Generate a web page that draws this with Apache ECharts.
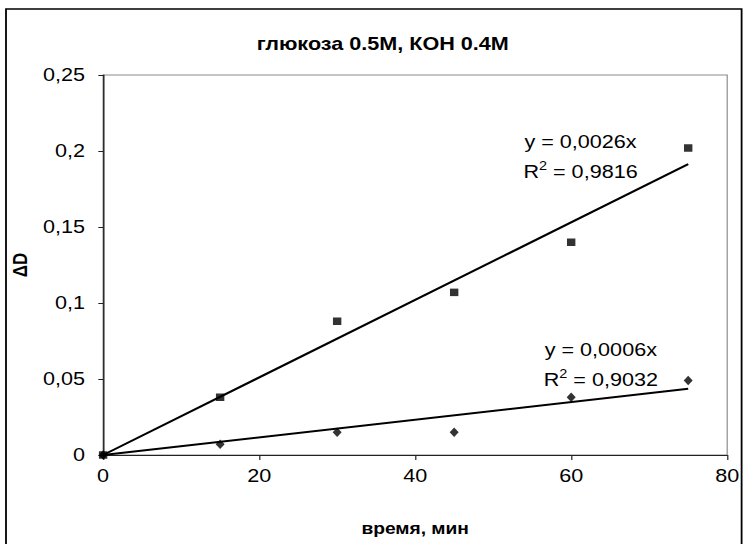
<!DOCTYPE html>
<html>
<head>
<meta charset="utf-8">
<script src="https://cdn.jsdelivr.net/npm/echarts@6/dist/echarts.min.js"></script>
<style>
  html, body { margin: 0; padding: 0; background: #fff; overflow: hidden; }
  /* the chart is laid out narrower and widened to the page width */
  #chart { width: 623px; height: 544px; transform: scaleX(1.2); transform-origin: 0 0; }
</style>
</head>
<body>
<div id="chart"></div>
<script>
// measurement times, min
const times = [0, 15, 30, 45, 60, 75];
// ΔD, upper series (squares)
const deltaSquares = [0, 0.038, 0.088, 0.107, 0.140, 0.202];
// ΔD, lower series (diamonds)
const deltaDiamonds = [0, 0.007, 0.015, 0.015, 0.038, 0.049];
// axis ticks
const xTicks = [0, 20, 40, 60, 80];
const yTicks = [0, 0.05, 0.1, 0.15, 0.2, 0.25];

const title = 'глюкоза 0.5M, КОН 0.4M';
const xName = 'время, мин';
const yName = 'ΔD';

// least-squares line through the origin, with the usual R²
function fitOrigin(xs, ys) {
  let sxy = 0, sxx = 0, mean = 0;
  xs.forEach((x, i) => { sxy += x * ys[i]; sxx += x * x; mean += ys[i]; });
  mean /= ys.length;
  const k = sxy / sxx;
  let sse = 0, sst = 0;
  xs.forEach((x, i) => {
    sse += Math.pow(ys[i] - k * x, 2);
    sst += Math.pow(ys[i] - mean, 2);
  });
  return { k: k, r2: 1 - sse / sst };
}
const fitA = fitOrigin(times, deltaSquares);
const fitB = fitOrigin(times, deltaDiamonds);
const xLast = times[times.length - 1];

const comma = v => String(v).replace('.', ',');
const eqText = f => '{t|y = ' + comma(f.k.toFixed(4)) + 'x}\n{t|R}{sup|2}{t| = ' + comma(f.r2.toFixed(4)) + '}';

const FONT = '"Liberation Sans", Arial, sans-serif';
const eqRich = {
  t: { fontSize: 18, fontFamily: FONT, color: '#000', lineHeight: 30 },
  sup: { fontSize: 12, fontFamily: FONT, color: '#000', lineHeight: 30, padding: [0, 0, 12, 0] }
};

const markerLabel = (fit, coord) => ({
  symbol: 'circle', symbolSize: 1, silent: true,
  itemStyle: { color: 'rgba(0,0,0,0)' },
  data: [{ coord: coord }],
  label: {
    show: true, position: 'inside', formatter: eqText(fit),
    align: 'center', verticalAlign: 'middle', rich: eqRich
  }
});

const chart = echarts.init(document.getElementById('chart'), null, { renderer: 'svg' });
chart.setOption({
  animation: false,
  backgroundColor: '#fff',
  textStyle: { fontFamily: FONT, color: '#000' },
  grid: {
    left: 84, right: 17, top: 75, bottom: 89,
    show: true, borderColor: '#8c8c8c', borderWidth: 1, backgroundColor: '#fff'
  },
  xAxis: {
    type: 'value', min: 0, max: 80, interval: 20,
    splitLine: { show: false },
    axisLine: { lineStyle: { color: '#222', width: 1.2 } },
    axisTick: { length: 5, lineStyle: { color: '#222' } },
    axisLabel: {
      fontSize: 18, color: '#000', margin: 12,
      customValues: xTicks, formatter: v => comma(v)
    },
    name: xName, nameLocation: 'middle', nameGap: 66,
    nameTextStyle: { fontSize: 16, fontWeight: 'bold', color: '#000' }
  },
  yAxis: {
    type: 'value', min: 0, max: 0.25, interval: 0.05,
    splitLine: { show: false },
    axisLine: { lineStyle: { color: '#222', width: 1.2 } },
    axisTick: { length: 4, lineStyle: { color: '#222' } },
    axisLabel: {
      fontSize: 18, color: '#000', margin: 15,
      formatter: v => comma(+v.toFixed(2))
    },
    name: yName, nameLocation: 'middle', nameGap: 58, nameRotate: 90,
    nameTextStyle: { fontSize: 17, fontWeight: 'bold', color: '#000' }
  },
  graphic: [
    {
      type: 'rect', silent: true, z: -1,
      shape: { x: 5, y: 9, width: 613, height: 600 },
      style: { fill: null, stroke: '#000', lineWidth: 1.5 }
    },
    {
      type: 'text', silent: true,
      x: 319, y: 44,
      style: {
        text: title, fontFamily: FONT, fontSize: 18, fontWeight: 'bold',
        fill: '#000', align: 'center', verticalAlign: 'middle'
      }
    }
  ],
  series: [
    {
      name: 'fitA', type: 'line', symbol: 'none', silent: true, z: 2,
      lineStyle: { color: '#000', width: 2 },
      data: [[0, 0], [xLast, fitA.k * xLast]],
      markPoint: markerLabel(fitA, [61.2, 0.196])
    },
    {
      name: 'fitB', type: 'line', symbol: 'none', silent: true, z: 2,
      lineStyle: { color: '#000', width: 2 },
      data: [[0, 0], [xLast, fitB.k * xLast]],
      markPoint: markerLabel(fitB, [63.8, 0.0595])
    },
    {
      name: 'squares', type: 'scatter', symbol: 'rect', symbolSize: [7, 7.5], z: 3,
      itemStyle: { color: '#000' },
      data: times.map((t, i) => [t, deltaSquares[i]])
    },
    {
      name: 'diamonds', type: 'scatter', symbol: 'diamond', symbolSize: [7.5, 9.5], z: 3,
      itemStyle: { color: '#000' },
      data: times.map((t, i) => [t, deltaDiamonds[i]])
    }
  ]
});
</script>
</body>
</html>
